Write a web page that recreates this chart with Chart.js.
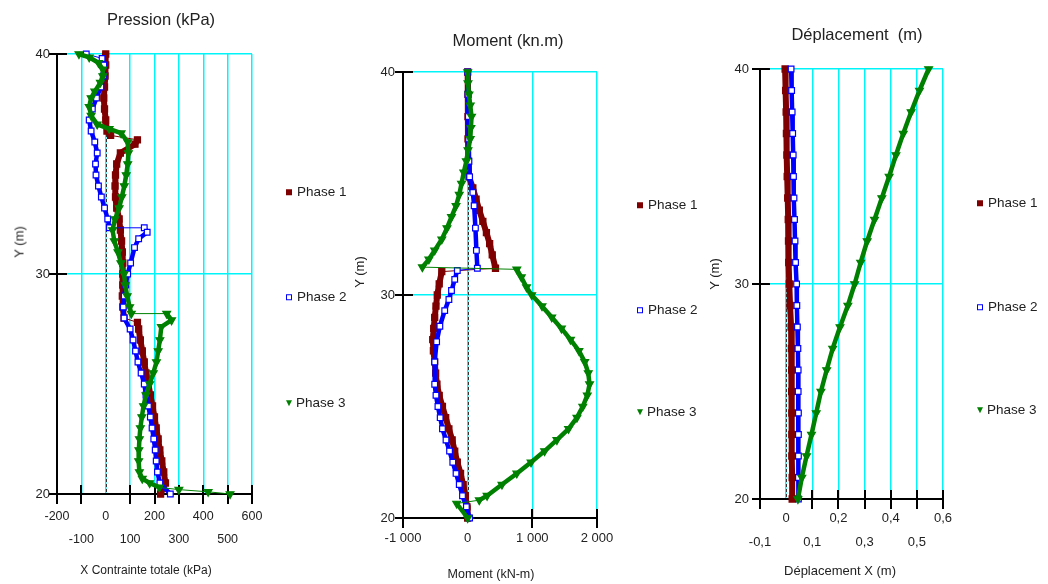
<!DOCTYPE html>
<html><head><meta charset="utf-8">
<script src="https://cdn.jsdelivr.net/npm/chart.js@4.4.1/dist/chart.umd.min.js"></script>
<style>
html,body{margin:0;padding:0;background:#fff;}
body{position:relative;width:1048px;height:584px;overflow:hidden;font-family:"Liberation Sans",Arial,sans-serif;color:#222;}
canvas{position:absolute;top:0;}
.lbl{position:absolute;white-space:pre;transform:translate(-50%,-50%);line-height:1;}
.ytitle{position:absolute;white-space:pre;transform:translate(-50%,-50%) rotate(-90deg);font-size:13px;line-height:1;}
.leg{position:absolute;transform:translateY(-50%);font-size:13.5px;line-height:1;white-space:pre;display:flex;align-items:center;}
.mk{display:inline-block;box-sizing:border-box;width:6px;height:6px;margin-right:5px;}
.m1{background:#7f0000;}
.m2{border:1px solid #0000ff;background:#fff;}
.m3{width:0;height:0;border-left:3.5px solid transparent;border-right:3.5px solid transparent;border-top:6px solid #008000;margin-right:4px;}
</style></head>
<body>
<canvas id="c1" width="300" height="584" style="left:0px"></canvas>
<canvas id="c2" width="300" height="584" style="left:340px"></canvas>
<canvas id="c3" width="300" height="584" style="left:700px"></canvas>

<div class="lbl" style="left:161px;top:19px;font-size:16.5px">Pression (kPa)</div>
<div class="lbl" style="left:508px;top:40px;font-size:16.5px">Moment (kn.m)</div>
<div class="lbl" style="left:857px;top:34px;font-size:16.5px">Déplacement  (m)</div>

<div class="lbl" style="left:146px;top:570px;font-size:12px">X Contrainte totale (kPa)</div>
<div class="lbl" style="left:491px;top:574px;font-size:12.5px">Moment (kN-m)</div>
<div class="lbl" style="left:840px;top:570px;font-size:13px">Déplacement X (m)</div>

<div class="ytitle" style="left:19px;top:242px">Y (m)</div>
<div class="ytitle" style="left:359px;top:272px">Y (m)</div>
<div class="ytitle" style="left:714px;top:274px">Y (m)</div>

<div id="legends"></div>

<script>
// ---------------- data ----------------
const seriesNames = ['Phase 1', 'Phase 2', 'Phase 3'];

const depthTicks  = ['20', '30', '40'];
const pressTicks  = ['-200', '-100', '0', '100', '200', '300', '400', '500', '600'];
const momentTicks = ['-1 000', '0', '1 000', '2 000'];
const deplTicks   = ['-0,1', '0', '0,1', '0,2', '0,3', '0,4', '0,5', '0,6'];

// Pression (kPa) vs Y (m)
const press1Y = [40, 39.5, 39, 38.5, 38, 37.5, 37, 36.5, 36.3, 36.1, 35.9, 35.5, 35, 34.5, 34, 33.5, 33, 32.5, 32, 31.5, 31, 30.5, 30, 29.5, 29, 28.5, 28, 27.8, 27.5, 27, 26.5, 26, 25.5, 25, 24.5, 24, 23.5, 23, 22.5, 22, 21.5, 21, 20.5, 20];
const press1X = [0, 0, -3, -5, -8, -5, 0, 5, 20, 130, 120, 60, 45, 40, 38, 40, 45, 55, 60, 65, 68, 70, 70, 70, 68, 70, 75, 130, 135, 142, 150, 158, 165, 175, 183, 192, 200, 207, 215, 222, 230, 238, 245, 225];

const press2Y = [40, 39.8, 39.5, 39, 38.5, 38, 37.5, 37, 36.5, 36, 35.5, 35, 34.5, 34, 33.5, 33, 32.5, 32.1, 32.1, 31.9, 31.6, 31.2, 30.5, 30, 29.5, 29, 28.5, 28, 27.5, 27, 26.5, 26, 25.5, 25, 24.5, 24, 23.5, 23, 22.5, 22, 21.5, 21, 20.5, 20];
const press2X = [-80, -15, -8, -10, -20, -38, -55, -68, -60, -45, -35, -42, -40, -30, -18, -5, 8, 15, 158, 170, 135, 118, 102, 90, 82, 76, 72, 75, 100, 112, 122, 132, 145, 158, 165, 175, 183, 190, 197, 203, 207, 212, 222, 265];

const press3Y = [40, 39.85, 39.6, 39.3, 39, 38.7, 38.3, 38, 37.6, 37.2, 36.8, 36.6, 36.4, 36, 35.5, 35, 34.5, 34, 33.5, 33, 32.5, 32, 31.5, 31, 30.5, 30, 29.5, 29, 28.5, 28.2, 28.2, 27.9, 27.6, 27, 26.5, 26, 25.5, 25, 24.5, 24, 23.5, 23, 22.5, 22, 21.5, 21, 20.7, 20.5, 20.3, 20.2, 20.1, 20];
const press3X = [-110, -68, -30, -12, -12, -22, -45, -60, -68, -60, -35, 14, 63, 90, 93, 90, 84, 76, 66, 55, 38, 28, 35, 50, 62, 75, 80, 88, 98, 105, 250, 270, 228, 222, 215, 208, 195, 180, 165, 155, 148, 142, 138, 136, 135, 138, 150, 180, 220, 300, 420, 510];

// Moment (kN-m) vs Y (m)
const mom1Y = [40, 39, 38, 37, 36, 35.3, 34.8, 34.3, 33.8, 33.3, 32.8, 32.3, 31.8, 31.2, 31.05, 30.5, 30, 29.5, 29, 28.5, 28, 27.5, 27, 26.5, 26, 25.5, 25, 24.5, 24, 23.5, 23, 22.5, 22, 21.5, 21, 20.5, 20];
const mom1X = [0, 5, 5, 5, 10, 20, 80, 130, 180, 235, 290, 340, 380, 430, -400, -440, -470, -490, -510, -525, -540, -530, -510, -495, -475, -440, -390, -340, -290, -240, -200, -160, -110, -70, -35, -10, 0];

const mom2Y = [40, 39, 38, 37, 36, 35.3, 34.6, 34, 33, 32, 31.2, 31.1, 30.7, 30.2, 29.8, 29.3, 28.6, 27.9, 27, 26, 25.5, 25, 24.5, 24, 23.5, 23, 22.5, 22, 21.5, 21, 20.5, 20];
const mom2X = [0, 5, 10, 15, 20, 30, 80, 100, 120, 135, 150, -160, -200, -250, -290, -355, -430, -480, -510, -510, -490, -460, -425, -390, -335, -280, -230, -180, -130, -80, -20, 30];

const mom3Y = [40, 39.5, 39, 38.5, 38, 37.5, 37, 36.5, 36, 35.5, 35, 34.5, 34, 33.5, 33, 32.5, 32, 31.6, 31.25, 31.15, 30.8, 30.35, 30, 29.5, 29, 28.5, 28, 27.5, 27, 26.5, 26, 25.5, 25, 24.5, 24, 23.5, 23, 22.5, 22, 21.5, 21, 20.8, 20.65, 20];
const mom3X = [0, 5, 20, 40, 60, 50, 40, 5, -20, -60, -95, -130, -180, -250, -320, -400, -510, -600, -700, 760, 830, 910, 990, 1150, 1300, 1450, 1590, 1720, 1810, 1865, 1885, 1850, 1780, 1690, 1560, 1380, 1190, 980, 760, 530, 300, 180, -170, 0];

// Déplacement X (m) vs Y (m)
const deplY  = [40, 39, 38, 37, 36, 35, 34, 33, 32, 31, 30, 29, 28, 27, 26, 25, 24, 23, 22, 21, 20];
const depl1X = [-0.004, -0.002, 0.000, 0.001, 0.003, 0.004, 0.006, 0.008, 0.009, 0.010, 0.012, 0.015, 0.019, 0.020, 0.021, 0.021, 0.022, 0.022, 0.022, 0.023, 0.023];
const depl2X = [0.019, 0.021, 0.023, 0.025, 0.027, 0.028, 0.030, 0.032, 0.034, 0.036, 0.040, 0.041, 0.043, 0.045, 0.046, 0.046, 0.047, 0.047, 0.047, 0.047, 0.047];
const depl3X = [0.545, 0.51, 0.478, 0.448, 0.42, 0.394, 0.366, 0.338, 0.31, 0.285, 0.262, 0.236, 0.206, 0.178, 0.155, 0.133, 0.115, 0.097, 0.078, 0.06, 0.045];

// ---------------- styling ----------------
Chart.defaults.font.family = "'Liberation Sans', Arial, sans-serif";
Chart.defaults.color = '#222';

const CYAN = '#00f4f8';
const styles = [
  { color: '#7f0000', fill: '#7f0000', point: 'rect', radius: 4.3, rot: 0, width: 6, order: 3 },
  { color: '#0000ff', fill: '#ffffff', point: 'rect', radius: 4, rot: 0, width: 4.5, order: 2 },
  { color: '#008000', fill: '#008000', point: 'triangle', radius: 4.5, rot: 180, width: 4.5, order: 1 }
];

function pts(ys, xs) { return ys.map((y, i) => ({ x: xs[i], y: y })); }

function segWidth(w) {
  return ctx => {
    const dx = Math.abs(ctx.p1.x - ctx.p0.x), dy = Math.abs(ctx.p1.y - ctx.p0.y);
    return (dx > 12 && dx > 3 * dy) ? 1 : w;
  };
}

const axisMarks = {
  id: 'axisMarks',
  beforeDatasetsDraw(chart) {
    const { ctx, chartArea: a, scales: { x, y } } = chart;
    ctx.save();
    const zx = Math.round(x.getPixelForValue(0)) + 0.5;
    ctx.strokeStyle = '#333'; ctx.lineWidth = 1; ctx.setLineDash([3, 2]);
    ctx.beginPath(); ctx.moveTo(zx, a.top); ctx.lineTo(zx, a.bottom); ctx.stroke();
    ctx.setLineDash([]);
    ctx.strokeStyle = '#000'; ctx.lineWidth = 2;
    x.ticks.forEach(t => {
      if (Math.abs(t.value) < 1e-9) return;
      const px = Math.round(x.getPixelForValue(t.value));
      ctx.beginPath(); ctx.moveTo(px, a.bottom - 9); ctx.lineTo(px, a.bottom + 10); ctx.stroke();
    });
    y.ticks.forEach(t => {
      const py = Math.round(y.getPixelForValue(t.value));
      ctx.beginPath(); ctx.moveTo(a.left - 8, py); ctx.lineTo(a.left + 10, py); ctx.stroke();
    });
    ctx.restore();
  }
};

function buildChart(id, o) {
  const datasets = o.series.map((d, i) => {
    const s = styles[i];
    return {
      label: seriesNames[i], data: d, showLine: true, order: s.order, clip: false,
      borderColor: s.color, backgroundColor: s.color, borderWidth: s.width,
      borderJoinStyle: 'round', borderCapStyle: 'round',
      pointStyle: s.point, pointRotation: s.rot, pointRadius: s.radius,
      pointBackgroundColor: s.fill, pointBorderColor: s.color, pointBorderWidth: 1.2,
      pointHoverRadius: s.radius,
      segment: { borderWidth: segWidth(s.width) }
    };
  });
  return new Chart(document.getElementById(id), {
    type: 'scatter',
    data: { datasets },
    options: {
      responsive: false, animation: false, devicePixelRatio: 1,
      layout: { padding: { top: o.padTop, right: o.padRight, left: 0, bottom: 0 } },
      plugins: { legend: { display: false }, tooltip: { enabled: false }, title: { display: false } },
      scales: {
        x: {
          type: 'linear', position: 'bottom', min: o.xMin, max: o.xMax,
          ticks: { stepSize: o.xStep, autoSkip: false, maxRotation: 0, minRotation: 0,
                   padding: o.xPad, font: { size: o.xFont, lineHeight: o.xLH }, color: '#222',
                   callback: (v, i) => o.xLabel(i) },
          grid: { color: CYAN, lineWidth: 1.5, drawTicks: true, tickLength: o.xTL, tickColor: 'rgba(0,0,0,0)' },
          border: { display: true, color: '#000', width: 2 },
          afterFit: s => { s.height = o.xHeight; }
        },
        y: {
          type: 'linear', position: 'left', min: 20, max: 40,
          ticks: { stepSize: 10, autoSkip: false, padding: o.yPad, font: { size: 13 }, color: '#222',
                   callback: (v, i) => depthTicks[i] },
          grid: { color: c => (c.tick && c.tick.value === 20) ? 'rgba(0,0,0,0)' : CYAN,
                  lineWidth: 1.5, drawTicks: true, tickLength: 5, tickColor: 'rgba(0,0,0,0)' },
          border: { display: true, color: '#000', width: 2 },
          afterFit: s => { s.width = o.yWidth; }
        }
      }
    },
    plugins: [axisMarks]
  });
}

buildChart('c1', {
  series: [pts(press1Y, press1X), pts(press2Y, press2X), pts(press3Y, press3X)],
  xMin: -200, xMax: 600, xStep: 100,
  xLabel: i => (i % 2 === 0) ? pressTicks[i] : ['', pressTicks[i]],
  xFont: 12.5, xLH: 1.84, xTL: 8, xPad: 3.5,
  padTop: 54, padRight: 48, yWidth: 57, xHeight: 90, yPad: 2
});

buildChart('c2', {
  series: [pts(mom1Y, mom1X), pts(mom2Y, mom2X), pts(mom3Y, mom3X)],
  xMin: -1000, xMax: 2000, xStep: 1000,
  xLabel: i => momentTicks[i],
  xFont: 13, xLH: 1.2, xTL: 8, xPad: 5,
  padTop: 72, padRight: 43, yWidth: 63, xHeight: 66, yPad: 3
});

buildChart('c3', {
  series: [pts(deplY, depl1X), pts(deplY, depl2X), pts(deplY, depl3X)],
  xMin: -0.1, xMax: 0.6, xStep: 0.1,
  xLabel: i => (i % 2 === 1) ? deplTicks[i] : ['', deplTicks[i]],
  xFont: 13, xLH: 1.8, xTL: 5, xPad: 3,
  padTop: 69, padRight: 57, yWidth: 60, xHeight: 85, yPad: 6
});

// ---------------- legends (HTML) ----------------
const legendPos = [
  { left: 286, ys: [192, 297, 403] },
  { left: 637, ys: [205, 310, 412] },
  { left: 977, ys: [203, 307, 410] }
];
const host = document.getElementById('legends');
legendPos.forEach(p => {
  seriesNames.forEach((name, i) => {
    const d = document.createElement('div');
    d.className = 'leg';
    d.style.left = p.left + 'px';
    d.style.top = p.ys[i] + 'px';
    const m = document.createElement('span');
    m.className = 'mk m' + (i + 1);
    d.appendChild(m);
    d.appendChild(document.createTextNode(name));
    host.appendChild(d);
  });
});
</script>
</body></html>
